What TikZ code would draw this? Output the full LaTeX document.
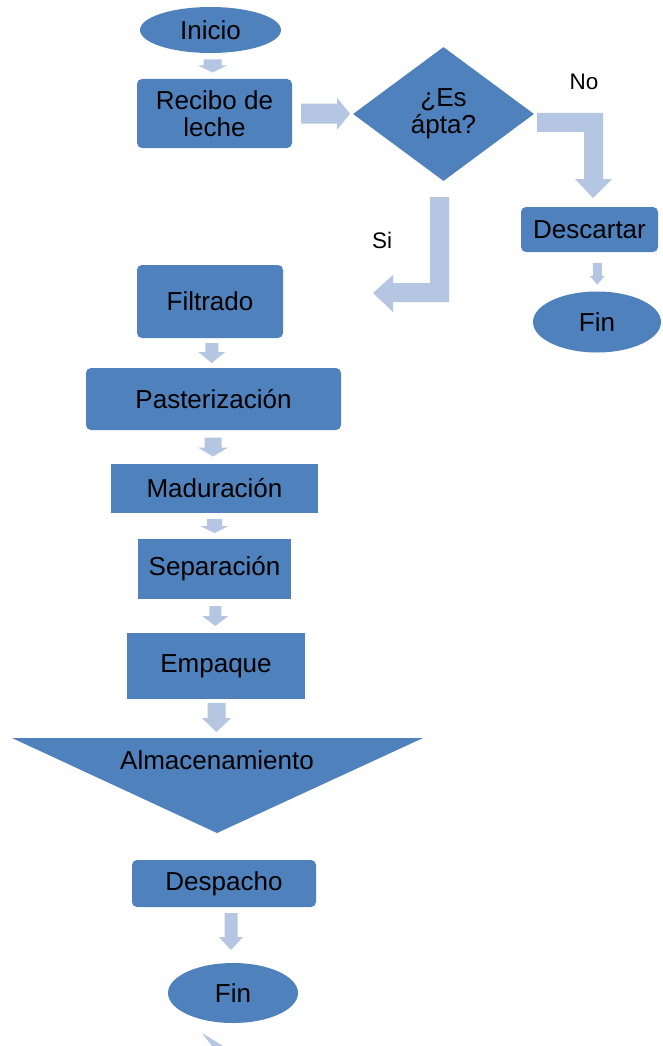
\documentclass[tikz,border=0pt]{standalone}
\usepackage{fontspec}
\setmainfont{Liberation Sans}
\usetikzlibrary{shapes.geometric,calc}
\definecolor{boxblue}{RGB}{79,129,189}
\definecolor{arrowblue}{RGB}{180,198,225}
\tikzset{
  x=1pt, y=-1pt,
  every node/.style={font=\fontsize{26}{27}\selectfont, text=black},
  procbox/.style={fill=boxblue, draw=none, rounded corners=5pt, inner sep=0pt, align=center},
  flatbox/.style={fill=boxblue, draw=none, inner sep=0pt, align=center},
  terminal/.style={ellipse, fill=boxblue, draw=none, inner sep=0pt},
  decision/.style={diamond, fill=boxblue, draw=none, inner sep=0pt, align=center},
  branchtag/.style={font=\fontsize{22.5}{24}\selectfont, inner sep=0pt},
  % block arrow pointing down: length, shaft width, head width, head length
  pics/blockdown/.style n args={4}{code={
    \fill[arrowblue] (-#2/2,-#1/2) -- (#2/2,-#1/2) -- (#2/2,#1/2-#4)
      -- (#3/2,#1/2-#4) -- (0,#1/2) -- (-#3/2,#1/2-#4) -- (-#2/2,#1/2-#4) -- cycle;
  }},
}
\begin{document}
\begin{tikzpicture}
\useasboundingbox[fill=white] (0,0) rectangle (662,1046);
\clip (0,0) rectangle (662,1046);

% process steps
\node[terminal, minimum width=141, minimum height=46] (ini) at (210.5,30) {Inicio};
\node[procbox, minimum width=155, minimum height=69] (rec) at (214.5,113.5) {Recibo de\\leche};
\node[decision, minimum width=181, minimum height=134] (apt) at (443.5,114)
  {\fontsize{26}{25}\selectfont ¿Es\\ápta?};
\node[procbox, minimum width=137, minimum height=45] (desc) at (589.5,229.5) {Descartar};
\node[terminal, minimum width=128, minimum height=61] (fin1) at (597,322) {Fin};
\node[procbox, minimum width=146, minimum height=73] (fil) at (210,301.5) {Filtrado};
\node[procbox, minimum width=255, minimum height=62] (pas) at (213.5,399) {Pasterización};
\node[flatbox, minimum width=207, minimum height=49] (mad) at (214.5,488.5) {Maduración};
\node[flatbox, minimum width=153, minimum height=60] (sep) at (214.5,569) {Separación};
\node[flatbox, minimum width=178, minimum height=66] (emp) at (216,666) {Empaque};

% storage (inverted triangle)
\coordinate (almtop) at (217,738);
\fill[boxblue] (12,738) -- (423,738) -- (217,833) -- cycle;
\node (alm) at (217,760) {Almacenamiento};

\node[procbox, minimum width=184, minimum height=47] (desp) at (224,883.5) {Despacho};
\node[terminal, minimum width=130, minimum height=60] (fin2) at (233,993) {Fin};

% branch labels
\node[branchtag] (no) at (584,82) {No};
\node[branchtag] (si) at (382,240) {Si};

% straight block arrows
\pic at ($(ini.south)!0.5!(rec.north)$) {blockdown={13}{18}{29}{7}};
\pic[rotate=90] at ($(rec.east)!0.5!(apt.west)+(3,0)$) {blockdown={49}{20}{32}{13}};
\pic at ($(fil.south)!0.5!(pas.north)$) {blockdown={20}{13}{27}{11}};
\pic at ($(pas.south)!0.5!(mad.north)+(-1,0)$) {blockdown={19}{17}{30}{9}};
\pic at ($(mad.south)!0.5!(sep.north)$) {blockdown={14}{15}{28}{7}};
\pic at ($(sep.south)!0.5!(emp.north)$) {blockdown={20}{12}{26}{10}};
\pic at ($(emp.south)!0.5!(almtop)+(0,-1)$) {blockdown={29}{18}{29}{14}};
\pic at ($(desp.south)!0.5!(fin2.north)+(2.5,-3.5)$) {blockdown={37}{13}{24}{13}};
\pic at ($(desc.south)!0.5!(fin1.north)+(4,2)$) {blockdown={22}{9}{15}{9}};

% bent arrow: decision -> Descartar (No)
\fill[arrowblue] (537,113) -- (603,113) -- (603,179) -- (612,179) -- (593,198)
  -- (575,179) -- (584,179) -- (584,132) -- (537,132) -- cycle;

% bent arrow: decision -> Filtrado (Si)
\fill[arrowblue] (449,197) -- (449,302) -- (393,302) -- (393,312) -- (373,293)
  -- (393,275) -- (393,283) -- (430,283) -- (430,197) -- cycle;

% arrow leaving the final terminal
\fill[arrowblue] (202,1033) -- (223,1046) -- (212,1046) -- cycle;
\end{tikzpicture}
\end{document}
